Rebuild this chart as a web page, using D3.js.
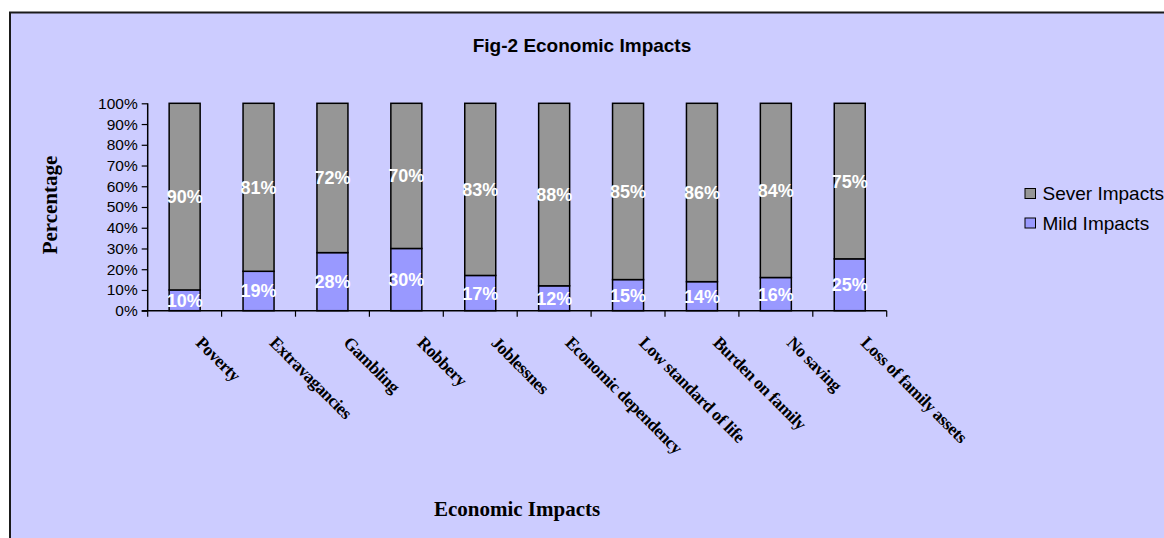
<!DOCTYPE html>
<html>
<head>
<meta charset="utf-8">
<script src="https://cdn.jsdelivr.net/npm/d3@7"></script>
<style>
  html, body { margin: 0; padding: 0; background: #ffffff; }
  svg { display: block; }
</style>
</head>
<body>
<script>
// ---- data ----
const categories = ["Poverty", "Extravagancies", "Gambling", "Robbery", "Joblessnes",
  "Economic dependency", "Low standard of life", "Burden on family", "No saving", "Loss of family assets"];
const mildImpacts  = [10, 19, 28, 30, 17, 12, 15, 14, 16, 25];
const severImpacts = [90, 81, 72, 70, 83, 88, 85, 86, 84, 75];
const yTicks = [0, 10, 20, 30, 40, 50, 60, 70, 80, 90, 100];
const seriesNames = ["Sever Impacts", "Mild Impacts"];
const seriesColors = ["#969696", "#9999FF"];

const W = 1164, H = 538;
const svg = d3.select("body").append("svg").attr("width", W).attr("height", H);

// frame
svg.append("rect").attr("x", 10).attr("y", 12.5).attr("width", 1200).attr("height", 600)
  .attr("fill", "#CCCCFF").attr("stroke", "#1a1a1a").attr("stroke-width", 2);

// title
svg.append("text").attr("x", 582).attr("y", 52).attr("text-anchor", "middle")
  .style("font-family", "Liberation Sans, Arial, sans-serif").style("font-weight", "bold")
  .style("font-size", "19px").attr("fill", "#000").text("Fig-2 Economic Impacts");

const plot = { left: 147.7, right: 886.7, top: 103.3, bottom: 310.7 };

const x = d3.scaleBand().domain(categories).range([plot.left, plot.right]).paddingInner(0).paddingOuter(0);
const y = d3.scaleLinear().domain([0, 100]).range([plot.bottom, plot.top]);
const barW = 31;

const rows = categories.map((c, i) => ({ c, mild: mildImpacts[i], sever: severImpacts[i] }));
const stack = d3.stack().keys(["mild", "sever"])(rows);
const colorByKey = { mild: seriesColors[1], sever: seriesColors[0] };

// bars
stack.forEach(layer => {
  svg.append("g").selectAll("rect").data(layer).join("rect")
    .attr("x", d => x(d.data.c) + x.bandwidth() / 2 - barW / 2)
    .attr("y", d => y(d[1]))
    .attr("width", barW)
    .attr("height", d => y(d[0]) - y(d[1]))
    .attr("fill", colorByKey[layer.key])
    .attr("stroke", "#000").attr("stroke-width", 1.5);
});

// value labels
stack.forEach(layer => {
  svg.append("g").selectAll("text").data(layer).join("text")
    .attr("x", d => x(d.data.c) + x.bandwidth() / 2)
    .attr("y", d => (y(d[0]) + y(d[1])) / 2)
    .attr("dy", "0.36em")
    .attr("text-anchor", "middle")
    .style("font-family", "Liberation Sans, Arial, sans-serif").style("font-weight", "bold")
    .style("font-size", "18px").attr("fill", "#fff")
    .text(d => (d[1] - d[0]) + "%");
});

// y axis
const yAxis = d3.axisLeft(y).tickValues(yTicks).tickFormat(d => d + "%").tickSize(6).tickPadding(4);
const gy = svg.append("g").attr("transform", `translate(${plot.left},0)`).call(yAxis);
gy.select(".domain").attr("stroke", "#000").attr("stroke-width", 1.5).attr("d", `M0,${plot.top}V${plot.bottom}`);
gy.selectAll(".tick line").attr("stroke", "#000").attr("stroke-width", 1.2);
gy.selectAll(".tick text").style("font-family", "Liberation Sans, Arial, sans-serif")
  .style("font-size", "15.5px").attr("fill", "#000");

// x axis
const gx = svg.append("g").attr("transform", `translate(0,${plot.bottom})`);
gx.append("line").attr("x1", plot.left - 6).attr("x2", plot.right).attr("y1", 0).attr("y2", 0)
  .attr("stroke", "#000").attr("stroke-width", 1.5);
const boundaries = categories.map(c => x(c)).concat([plot.right]);
gx.selectAll("line.tk").data(boundaries).join("line").attr("class", "tk")
  .attr("x1", d => d).attr("x2", d => d).attr("y1", 0).attr("y2", 6)
  .attr("stroke", "#000").attr("stroke-width", 1.2);

// category labels rotated
svg.append("g").selectAll("text").data(categories).join("text")
  .attr("transform", d => `translate(${x(d) + x.bandwidth() / 2 + 10},${plot.bottom + 33}) rotate(45)`)
  .attr("text-anchor", "start")
  .style("font-family", "Liberation Serif, Times New Roman, serif").style("font-weight", "bold")
  .style("font-size", "17.5px").style("letter-spacing", "-0.5px").attr("fill", "#000")
  .text(d => d);

// axis titles
svg.append("text").attr("transform", "translate(57,205) rotate(-90)").attr("text-anchor", "middle")
  .style("font-family", "Liberation Serif, Times New Roman, serif").style("font-weight", "bold")
  .style("font-size", "21px").attr("fill", "#000").text("Percentage");
svg.append("text").attr("x", 517).attr("y", 516).attr("text-anchor", "middle")
  .style("font-family", "Liberation Serif, Times New Roman, serif").style("font-weight", "bold")
  .style("font-size", "21px").attr("fill", "#000").text("Economic Impacts");

// legend
const legend = svg.append("g");
seriesNames.forEach((name, i) => {
  const ly = 188.5 + i * 29.5;
  legend.append("rect").attr("x", 1025).attr("y", ly).attr("width", 10.5).attr("height", 10)
    .attr("fill", seriesColors[i]).attr("stroke", "#000").attr("stroke-width", 1);
  legend.append("text").attr("x", 1042.5).attr("y", ly + 11.5)
    .style("font-family", "Liberation Sans, Arial, sans-serif").style("font-size", "19px")
    .attr("fill", "#000").text(name);
});
</script>
</body>
</html>
